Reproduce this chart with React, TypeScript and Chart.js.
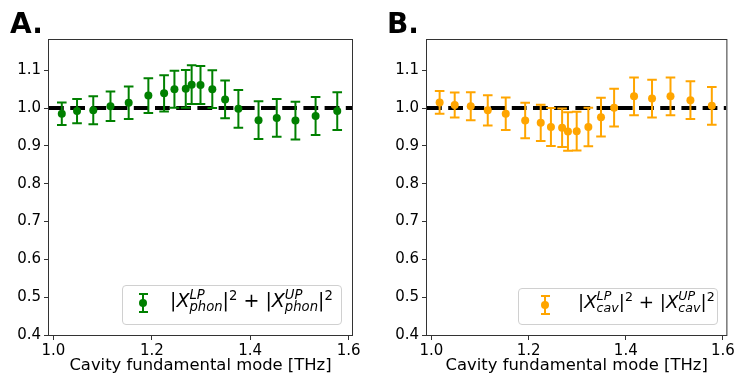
import React, { useEffect, useRef } from 'react';
import { Chart, registerables } from 'chart.js';

Chart.register(...registerables);

// ---------- data ----------
const cavityModes = [1.017, 1.048, 1.081, 1.116, 1.153, 1.193, 1.225, 1.246, 1.269, 1.281, 1.299, 1.323, 1.349, 1.376, 1.417, 1.454, 1.492, 1.533, 1.577];
const phononWeights = [0.985, 0.992, 0.994, 1.005, 1.014, 1.033, 1.039, 1.050, 1.051, 1.062, 1.061, 1.050, 1.023, 0.998, 0.968, 0.974, 0.967, 0.979, 0.992];
const phononErrors = [0.030, 0.032, 0.037, 0.039, 0.043, 0.046, 0.048, 0.049, 0.050, 0.051, 0.050, 0.050, 0.050, 0.050, 0.050, 0.050, 0.050, 0.050, 0.050];
const cavityWeights = [1.015, 1.008, 1.005, 0.994, 0.985, 0.967, 0.961, 0.950, 0.948, 0.938, 0.939, 0.950, 0.976, 1.001, 1.031, 1.025, 1.031, 1.021, 1.006];
const cavityErrors = [0.030, 0.033, 0.037, 0.040, 0.043, 0.047, 0.048, 0.050, 0.051, 0.051, 0.051, 0.051, 0.051, 0.050, 0.050, 0.050, 0.050, 0.050, 0.050];
const xTickValues = [1.0, 1.2, 1.4, 1.6];
const yTickValues = [0.4, 0.5, 0.6, 0.7, 0.8, 0.9, 1.0, 1.1];
const referenceLevel = 1.0;
const xRange = [0.991, 1.607];
const yRange = [0.4, 1.18];
const xAxisTitle = 'Cavity fundamental mode [THz]';

const FONT = "'DejaVu Sans', sans-serif";

const errorBarsPlugin = {
  id: 'errorBars',
  afterDatasetsDraw(chart: any, _args: any, opts: any) {
    const { ctx, scales } = chart;
    const xs = scales.x;
    const ys = scales.y;
    const ds = chart.data.datasets[0];
    ctx.save();
    ctx.strokeStyle = opts.color;
    ctx.lineWidth = 2;
    ds.data.forEach((p: any, i: number) => {
      const e = opts.errors[i];
      const px = xs.getPixelForValue(p.x);
      const yTop = ys.getPixelForValue(p.y + e);
      const yBot = ys.getPixelForValue(p.y - e);
      ctx.beginPath();
      ctx.moveTo(px, yTop);
      ctx.lineTo(px, yBot);
      ctx.moveTo(px - 4.8, yTop);
      ctx.lineTo(px + 4.8, yTop);
      ctx.moveTo(px - 4.8, yBot);
      ctx.lineTo(px + 4.8, yBot);
      ctx.stroke();
    });
    ctx.restore();
  },
};

const framePlugin = {
  id: 'frame',
  afterDraw(chart: any) {
    const { ctx, chartArea } = chart;
    ctx.save();
    ctx.strokeStyle = '#333';
    ctx.lineWidth = 1;
    ctx.strokeRect(chartArea.left - 0.5, chartArea.top - 0.5, chartArea.right - chartArea.left + 1, chartArea.bottom - chartArea.top + 1);
    ctx.restore();
  },
};

function Panel(props: { left: number; width: number; rightPad: number; values: number[]; errors: number[]; color: string }) {
  const ref = useRef<HTMLCanvasElement | null>(null);
  useEffect(() => {
    if (!ref.current) return;
    const chart = new Chart(ref.current, {
      type: 'scatter',
      data: {
        datasets: [
          {
            data: cavityModes.map((x, i) => ({ x, y: props.values[i] })),
            backgroundColor: props.color,
            borderColor: props.color,
            borderWidth: 0,
            pointRadius: 4,
            pointHoverRadius: 4,
            order: 0,
          } as any,
          {
            data: [{ x: xRange[0], y: referenceLevel }, { x: xRange[1], y: referenceLevel }],
            showLine: true,
            borderColor: '#000',
            backgroundColor: '#000',
            borderWidth: 4,
            borderDash: [14.8, 6.4],
            pointRadius: 0,
            order: 1,
          } as any,
        ],
      },
      options: {
        responsive: false,
        animation: false,
        events: [],
        layout: { padding: { left: 0, right: props.rightPad, top: 40, bottom: 0 } },
        plugins: {
          legend: { display: false },
          tooltip: { enabled: false },
          errorBars: { errors: props.errors, color: props.color },
        } as any,
        scales: {
          x: {
            type: 'linear',
            min: xRange[0],
            max: xRange[1],
            afterBuildTicks: (s: any) => { s.ticks = xTickValues.map((v) => ({ value: v })); },
            afterFit: (s: any) => { s.height = 48; },
            ticks: { callback: (v: any) => Number(v).toFixed(1), font: { family: FONT, size: 15 }, color: '#000', padding: 2, maxRotation: 0, autoSkip: false },
            grid: { drawOnChartArea: false, drawTicks: true, tickLength: 5, color: '#333' },
            border: { display: false },
            title: { display: true, text: xAxisTitle, font: { family: FONT, size: 16.4 }, color: '#000', padding: { top: 0, bottom: 7 } },
          },
          y: {
            type: 'linear',
            min: yRange[0],
            max: yRange[1],
            afterBuildTicks: (s: any) => { s.ticks = yTickValues.map((v) => ({ value: v })); },
            afterFit: (s: any) => { s.width = 49; },
            ticks: { callback: (v: any) => Number(v).toFixed(1), font: { family: FONT, size: 15 }, color: '#000', padding: 3, autoSkip: false },
            grid: { drawOnChartArea: false, drawTicks: true, tickLength: 5, color: '#333' },
            border: { display: false },
          },
        },
      } as any,
      plugins: [errorBarsPlugin, framePlugin],
    });
    return () => chart.destroy();
  }, []);
  return (
    <canvas
      ref={ref}
      width={props.width}
      height={383}
      style={{ position: 'absolute', left: props.left, top: 0, width: props.width, height: 383, display: 'block' }}
    />
  );
}

function Stack({ sup, sub, size }: { sup: string; sub: string; size: number }) {
  return (
    <span style={{ display: 'inline-block', verticalAlign: '-4px', fontSize: size * 0.695, lineHeight: '11.8px', fontStyle: 'italic' }}>
      <span style={{ display: 'block' }}>{sup}</span>
      <span style={{ display: 'block' }}>{sub}</span>
    </span>
  );
}

function Sq({ size }: { size: number }) {
  return <span style={{ fontSize: size * 0.695, verticalAlign: '7.5px', lineHeight: '12px' }}>2</span>;
}

function Legend(props: { box: [number, number, number, number]; markerX: number; markerY: number; textLeft: number; textTop: number; color: string; sub: string; size: number }) {
  const [bl, bt, bw, bh] = props.box;
  const c = props.color;
  const s = props.size;
  return (
    <>
      <div style={{ position: 'absolute', left: bl, top: bt, width: bw, height: bh, boxSizing: 'border-box', border: '1px solid #d0d0d0', borderRadius: 4, background: 'rgba(255,255,255,0.8)' }} />
      <div style={{ position: 'absolute', left: props.markerX - 1, top: props.markerY - 9, width: 2, height: 18, background: c }} />
      <div style={{ position: 'absolute', left: props.markerX - 4.5, top: props.markerY - 10, width: 9, height: 2, background: c }} />
      <div style={{ position: 'absolute', left: props.markerX - 4.5, top: props.markerY + 8, width: 9, height: 2, background: c }} />
      <div style={{ position: 'absolute', left: props.markerX - 4, top: props.markerY - 4, width: 8, height: 8, borderRadius: '50%', background: c }} />
      <div style={{ position: 'absolute', left: props.textLeft, top: props.textTop, fontFamily: FONT, fontSize: s, lineHeight: '30px', whiteSpace: 'nowrap', color: '#000' }}>
        |<i>X</i><Stack sup="LP" sub={props.sub} size={s} />|<Sq size={s} /> + |<i>X</i><Stack sup="UP" sub={props.sub} size={s} />|<Sq size={s} />
      </div>
    </>
  );
}

export default function App() {
  return (
    <div style={{ position: 'fixed', left: 0, top: 0, width: 737, height: 383, background: '#fff', overflow: 'hidden' }}>
      <Panel left={0} width={370} rightPad={18} values={phononWeights} errors={phononErrors} color="#008000" />
      <Panel left={378} width={359} rightPad={8} values={cavityWeights} errors={cavityErrors} color="#FFA500" />
      <div style={{ position: 'absolute', left: 10, top: 10, fontFamily: FONT, fontWeight: 'bold', fontSize: 28, lineHeight: '28px' }}>A.</div>
      <div style={{ position: 'absolute', left: 387, top: 10, fontFamily: FONT, fontWeight: 'bold', fontSize: 28, lineHeight: '28px' }}>B.</div>
      <Legend box={[122, 285, 220, 40]} markerX={143} markerY={303} textLeft={170} textTop={285} color="#008000" sub="phon" size={19} />
      <Legend box={[518, 288, 200, 37]} markerX={545} markerY={305} textLeft={578} textTop={287} color="#FFA500" sub="cav" size={18.2} />
    </div>
  );
}
